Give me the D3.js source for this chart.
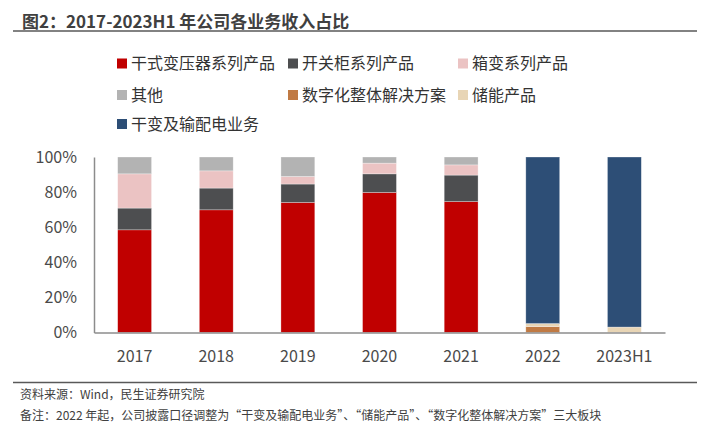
<!DOCTYPE html>
<html><head><meta charset="utf-8">
<script src="https://cdn.jsdelivr.net/npm/d3@7"></script>
<style>
html,body{margin:0;padding:0;background:#fff;}
text{font-family:"Noto Sans CJK SC","Noto Sans",sans-serif;}
</style></head>
<body>
<svg id="c" width="707" height="423"></svg>
<script>
const categories = ["2017","2018","2019","2020","2021","2022","2023H1"];
const seriesNames = ["干式变压器系列产品","开关柜系列产品","箱变系列产品","其他","数字化整体解决方案","储能产品","干变及输配电业务"];
const seriesColors = ["#C00000","#4D4E50","#EBC3C3","#B3B3B3","#C07A44","#E8D5B5","#2D4E76"];
const dryTransformer = [58.5, 69.9, 74.1, 79.8, 74.6, 0, 0];
const switchgear     = [12.4, 12.4, 10.5, 10.6, 15.1, 0, 0];
const boxTransformer = [19.5,  9.8,  4.3,  6.1,  5.8, 0, 0];
const others         = [ 9.6,  7.9, 11.1,  3.5,  4.5, 0, 0];
// stacking order for 2022+: digital at bottom, storage, then main business
const digital        = [0, 0, 0, 0, 0, 3.4, 0];
const storage        = [0, 0, 0, 0, 0, 1.7, 3.1];
const mainBusiness   = [0, 0, 0, 0, 0, 94.9, 96.9];
const yTicks = [0, 20, 40, 60, 80, 100];

const seriesValues = [dryTransformer, switchgear, boxTransformer, others, digital, storage, mainBusiness];
const keys = seriesNames;
const rows = categories.map((c,i)=>{const r={cat:c}; keys.forEach((k,j)=>r[k]=seriesValues[j][i]); return r;});
const stackOrder = [4,5,0,1,2,3,6].map(i=>keys[i]);
const stacked = d3.stack().keys(stackOrder)(rows);

const svg = d3.select("#c");
// title
svg.append("text").attr("x",22).attr("y",27.5).attr("font-size",17).attr("font-weight","bold").attr("fill","#404040")
  .text("图2：2017-2023H1 年公司各业务收入占比");
svg.append("line").attr("x1",13).attr("x2",697).attr("y1",31).attr("y2",31).attr("stroke","#595959").attr("stroke-width",1.5);

const x = d3.scaleBand().domain(categories).range([94,665]).paddingInner(0.585).paddingOuter(0.29);
const y = d3.scaleLinear().domain([0,100]).range([332.5,157]);

const color = d3.scaleOrdinal().domain(keys).range(seriesColors);

svg.append("g").selectAll("g").data(stacked).join("g").attr("fill",d=>color(d.key))
  .selectAll("rect").data(d=>d).join("rect")
  .attr("x",d=>x(d.data.cat)).attr("width",x.bandwidth())
  .attr("y",d=>y(d[1])).attr("height",d=>Math.max(0,y(d[0])-y(d[1])))
  .attr("stroke","#fff").attr("stroke-opacity",0.5).attr("stroke-width",0.6);

// axes
const ya = svg.append("g").attr("transform","translate(94,0)")
  .call(d3.axisLeft(y).tickValues(yTicks).tickFormat(d=>d+"%").tickSize(0).tickPadding(17));
ya.select(".domain").attr("stroke","#8c8c8c").attr("stroke-width",1.5);
ya.selectAll("text").attr("font-size",16).attr("fill","#4a4a4a").attr("font-family","'Noto Sans',sans-serif");

const xa = svg.append("g").attr("transform","translate(0,332.5)")
  .call(d3.axisBottom(x).tickSize(0).tickPadding(18));
xa.select(".domain").attr("stroke","#8c8c8c").attr("stroke-width",1.5);
xa.selectAll("text").attr("font-size",16).attr("fill","#4a4a4a").attr("font-family","'Noto Sans',sans-serif");

// legend
const legendPos = [[117,63.5],[288,63.5],[458,63.5],[117,95],[288,95],[458,95],[117,124]];
const lg = svg.append("g").selectAll("g").data(keys).join("g")
  .attr("transform",(d,i)=>`translate(${legendPos[i][0]},${legendPos[i][1]})`);
lg.append("rect").attr("x",0).attr("y",-5).attr("width",10).attr("height",10).attr("fill",d=>color(d));
lg.append("text").attr("x",14).attr("y",0).attr("dy","0.36em").attr("font-size",16).attr("fill","#333").text(d=>d);

// footer
svg.append("line").attr("x1",13).attr("x2",697).attr("y1",382.5).attr("y2",382.5).attr("stroke","#595959").attr("stroke-width",1.5);
svg.append("text").attr("x",20).attr("y",399).attr("font-size",12).attr("fill","#404040").text("资料来源：Wind，民生证券研究院");
svg.append("text").attr("x",20).attr("y",420).attr("font-size",12).attr("fill","#404040")
  .text("备注：2022 年起，公司披露口径调整为“干变及输配电业务”、“储能产品”、“数字化整体解决方案”三大板块");
</script>
</body></html>
